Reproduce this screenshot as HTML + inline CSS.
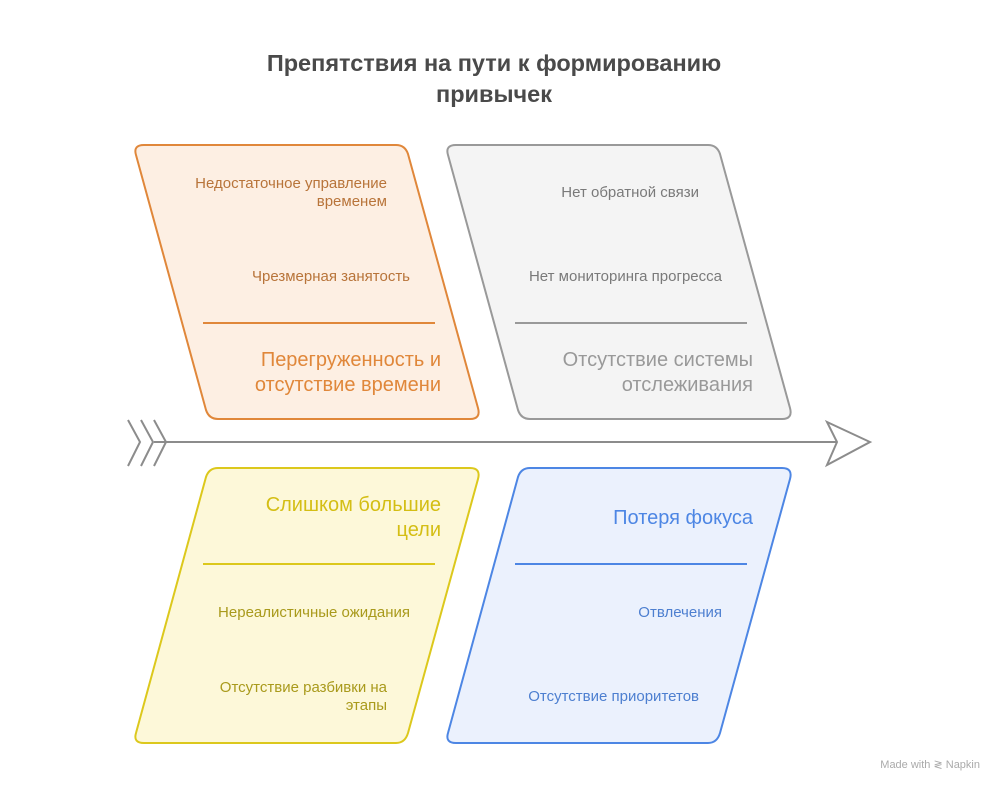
<!DOCTYPE html>
<html><head><meta charset="utf-8"><style>
html,body{margin:0;padding:0;background:#fff}
svg text{font-family:"Liberation Sans","DejaVu Sans",sans-serif}
</style></head><body>
<svg width="1005" height="793" viewBox="0 0 1005 793" xmlns="http://www.w3.org/2000/svg">
<text x="494" y="71" text-anchor="middle" font-size="23.5" font-weight="bold" fill="#4a4a4a">Препятствия на пути к формированию</text>
<text x="494" y="102" text-anchor="middle" font-size="23.5" font-weight="bold" fill="#4a4a4a">привычек</text>

<g stroke-width="2" stroke-linejoin="round">
<path d="M144,145 L396,145 Q405,145 408,154 L478,408 Q481,419 470,419 L218,419 Q209,419 206,410 L136,155 Q133,145 144,145 Z" fill="#fdefe3" stroke="#e0873a"/>
<path d="M456,145 L708,145 Q717,145 720,154 L790,408 Q793,419 782,419 L530,419 Q521,419 518,410 L448,155 Q445,145 456,145 Z" fill="#f4f4f4" stroke="#999"/>
<path d="M218,468 L470,468 Q481,468 478,479 L408,733 Q405,743 396,743 L144,743 Q133,743 136,733 L206,477 Q209,468 218,468 Z" fill="#fdf8d9" stroke="#dcc81c"/>
<path d="M530,468 L782,468 Q793,468 790,479 L720,733 Q717,743 708,743 L456,743 Q445,743 448,733 L518,477 Q521,468 530,468 Z" fill="#ebf1fd" stroke="#4d86e4"/>
</g>
<g stroke-width="2">
<line x1="203" y1="323" x2="435" y2="323" stroke="#e0873a"/>
<line x1="515" y1="323" x2="747" y2="323" stroke="#999"/>
<line x1="203" y1="564" x2="435" y2="564" stroke="#dcc81c"/>
<line x1="515" y1="564" x2="747" y2="564" stroke="#4d86e4"/>
</g>
<g stroke="#8c8c8c" stroke-width="2" fill="none">
<line x1="154" y1="442" x2="838" y2="442"/>
<path d="M827,422 L870,442 L827,465 L837,442 Z" fill="#fff" stroke-linejoin="miter"/>
<path d="M128,420 L140,442 L128,466"/>
<path d="M141,420 L153,442 L141,466"/>
<path d="M154,420 L166,442 L154,466"/>
</g>

<g font-size="15">
<text x="387" y="188" text-anchor="end" fill="#b8743a">Недостаточное управление</text>
<text x="387" y="206" text-anchor="end" fill="#b8743a">временем</text>
<text x="410" y="281" text-anchor="end" fill="#b8743a">Чрезмерная занятость</text>
<text x="699" y="197" text-anchor="end" fill="#7a7a7a">Нет обратной связи</text>
<text x="722" y="281" text-anchor="end" fill="#7a7a7a">Нет мониторинга прогресса</text>
<text x="410" y="617" text-anchor="end" fill="#a99a1c">Нереалистичные ожидания</text>
<text x="387" y="692" text-anchor="end" fill="#a99a1c">Отсутствие разбивки на</text>
<text x="387" y="710" text-anchor="end" fill="#a99a1c">этапы</text>
<text x="722" y="617" text-anchor="end" fill="#4d7fd0">Отвлечения</text>
<text x="699" y="701" text-anchor="end" fill="#4d7fd0">Отсутствие приоритетов</text>
</g>
<g font-size="20">
<text x="441" y="366" text-anchor="end" fill="#e0873a">Перегруженность и</text>
<text x="441" y="391" text-anchor="end" fill="#e0873a">отсутствие времени</text>
<text x="753" y="366" text-anchor="end" fill="#999">Отсутствие системы</text>
<text x="753" y="391" text-anchor="end" fill="#999">отслеживания</text>
<text x="441" y="511" text-anchor="end" fill="#d4be14">Слишком большие</text>
<text x="441" y="536" text-anchor="end" fill="#d4be14">цели</text>
<text x="753" y="524" text-anchor="end" fill="#4d86e4">Потеря фокуса</text>
</g>
<text x="980" y="768" text-anchor="end" font-size="11" fill="#aaa">Made with ≷ Napkin</text>
</svg>
</body></html>
